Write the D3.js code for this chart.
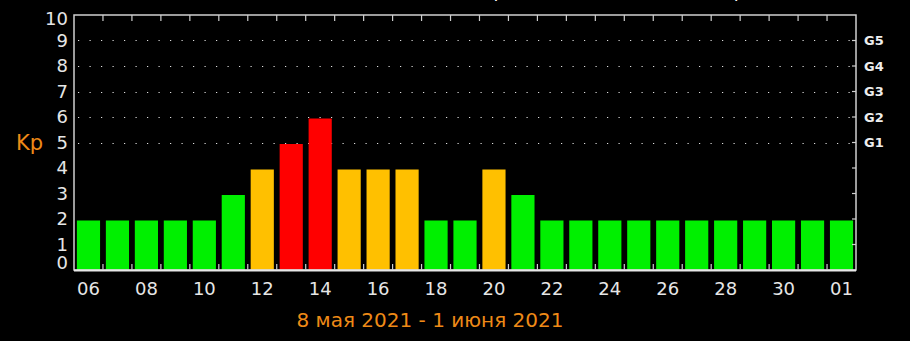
<!DOCTYPE html>
<html>
<head>
<meta charset="utf-8">
<script src="https://cdn.jsdelivr.net/npm/d3@7"></script>
<style>
  body { margin: 0; background: #000; }
  svg { display: block; }
</style>
</head>
<body>
<svg id="chart" width="910" height="341"></svg>
<script>
// days shown on the x axis (6 May .. 1 June)
const days = ["06","07","08","09","10","11","12","13","14","15","16","17","18","19","20",
              "21","22","23","24","25","26","27","28","29","30","31","01"];
const kp = [2,2,2,2,2,3,4,5,6,4,4,4,2,2,4,3,2,2,2,2,2,2,2,2,2,2,2];
const yTicks = [0,1,2,3,4,5,6,7,8,9,10];
const gridLevels = [5,6,7,8,9];
const stormLabels = ["G1","G2","G3","G4","G5"];
const xLabels = days.filter((d, i) => i % 2 === 0);
const subtitle = "8 мая 2021 - 1 июня 2021";
const title = "Kp-индекс за 3-часовой период (в UTC)";

const svg = d3.select('#chart');
const width = 910, height = 341;
const margin = { top: 15, right: 54, bottom: 71, left: 74 };
const orange = '#ee8a17';

const x = d3.scaleBand()
  .domain(days)
  .range([margin.left, width - margin.right])
  .paddingInner(0.2)
  .paddingOuter(0.1);

const y = d3.scaleLinear()
  .domain([0, 10])
  .range([height - margin.bottom, margin.top]);

let barColor = (v) => {
  if (v >= 5) return '#ff0000';
  if (v >= 4) return '#ffc000';
  return '#00f000';
};

// background
svg.append('rect').attr('width', width).attr('height', height).attr('fill', '#000');

// title, mostly above the visible area (only its descenders show)
svg.append('text')
  .attr('x', 852).attr('y', -3)
  .attr('text-anchor', 'end')
  .style('font', '18px "DejaVu Sans"')
  .style('fill', '#fff')
  .text(title);

// dotted grid lines (storm levels only)
svg.append('g').selectAll('line')
  .data(gridLevels)
  .enter().append('line')
  .attr('x1', margin.left + 4).attr('x2', width - margin.right)
  .attr('y1', d => Math.round(y(d)) + 0.5).attr('y2', d => Math.round(y(d)) + 0.5)
  .style('stroke', '#ddd')
  .style('stroke-width', 1.2)
  .style('stroke-dasharray', '1.2,10.3');

// bars
svg.append('g').selectAll('rect')
  .data(kp)
  .enter().append('rect')
  .attr('x', (d, i) => x(days[i]))
  .attr('width', x.bandwidth())
  .attr('y', d => y(d) + 1.5)
  .attr('height', d => y(0) - y(d) - 1.5)
  .attr('fill', d => barColor(d));

// frame
const frame = svg.append('g').style('stroke', '#cfcfcf').style('fill', 'none');
frame.append('rect')
  .attr('x', margin.left).attr('y', margin.top)
  .attr('width', width - margin.right - margin.left)
  .attr('height', y(0) - margin.top)
  .style('stroke-width', 1.5);
frame.append('line')
  .attr('x1', margin.left).attr('x2', width - margin.right)
  .attr('y1', y(0) + 0.5).attr('y2', y(0) + 0.5)
  .style('stroke', '#e8e8e8')
  .style('stroke-width', 2);

// ticks between the day bars, top and bottom
const half = x.step() * x.paddingInner() / 2;
const bounds = days.slice(1).map(d => x(d) - half);
frame.selectAll('.tick-top')
  .data(bounds)
  .enter().append('line')
  .attr('x1', d => d).attr('x2', d => d)
  .attr('y1', margin.top).attr('y2', margin.top + 6)
  .style('stroke-width', 1.2);
frame.selectAll('.tick-bottom')
  .data(bounds)
  .enter().append('line')
  .attr('x1', d => d).attr('x2', d => d)
  .attr('y1', y(0)).attr('y2', y(0) - 6)
  .style('stroke-width', 1.2);

// right side ticks
frame.selectAll('.tick-right')
  .data(yTicks.slice(1, -1))
  .enter().append('line')
  .attr('x1', width - margin.right).attr('x2', width - margin.right - 4)
  .attr('y1', d => y(d)).attr('y2', d => y(d))
  .style('stroke-width', 1.2);

// left y labels
svg.append('g').selectAll('text')
  .data(yTicks)
  .enter().append('text')
  .attr('x', 68)
  .attr('y', d => {
    if (d === 0) return y(d) - 7;
    if (d === 10) return y(d) + 4;
    return y(d);
  })
  .attr('dy', '0.36em')
  .attr('text-anchor', 'end')
  .style('font', '18px "DejaVu Sans"')
  .style('fill', '#e6e6e6')
  .text(d => d);

// storm scale labels on the right
svg.append('g').selectAll('text')
  .data(gridLevels)
  .enter().append('text')
  .attr('x', 864)
  .attr('y', d => y(d))
  .attr('dy', '0.36em')
  .style('font', 'bold 13px "DejaVu Sans"')
  .style('fill', '#eeeeee')
  .text((d, i) => stormLabels[i]);

// x axis labels
const xAxis = d3.axisBottom(x).tickValues(xLabels).tickSize(0).tickPadding(0);
const gx = svg.append('g')
  .attr('transform', `translate(0, ${y(0) + 12})`)
  .call(xAxis);
gx.select('.domain').remove();
gx.selectAll('text')
  .attr('dy', '0.71em')
  .style('font', '18px "DejaVu Sans"')
  .style('fill', '#e6e6e6');

// Kp label
svg.append('text')
  .attr('x', 16).attr('y', 150)
  .style('font', '21px "DejaVu Sans"')
  .style('fill', orange)
  .text('Kp');

// date range
svg.append('text')
  .attr('x', 430).attr('y', 327)
  .attr('text-anchor', 'middle')
  .style('font', '20px "DejaVu Sans"')
  .style('fill', orange)
  .text(subtitle);
</script>
</body>
</html>
